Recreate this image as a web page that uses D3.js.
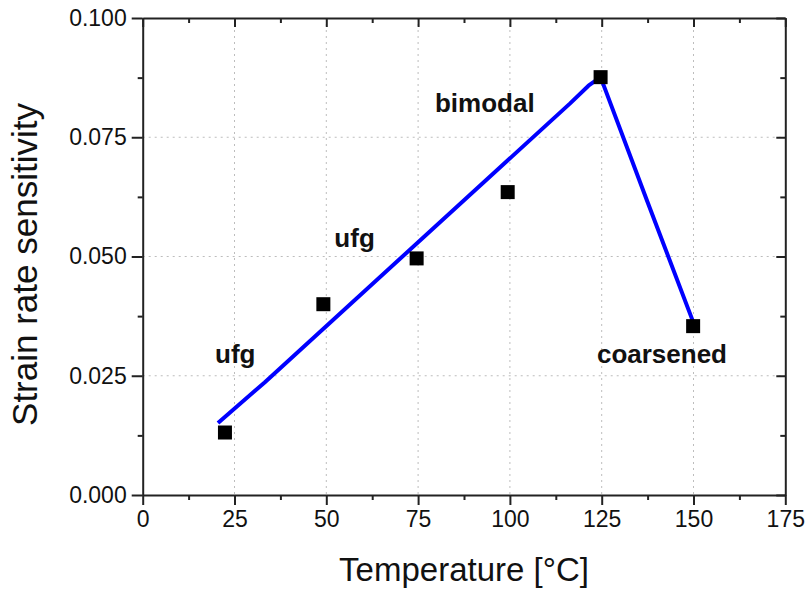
<!DOCTYPE html>
<html>
<head>
<meta charset="utf-8">
<script src="https://cdn.jsdelivr.net/npm/d3@7"></script>
<style>
  body { margin: 0; background: #fff; }
  svg text { font-family: "Liberation Sans", Arial, sans-serif; fill: #111; }
  .grid line { stroke: #bdbdbd; stroke-width: 1; stroke-dasharray: 2,4; }
  .axis path, .axis line { stroke: #222; stroke-width: 2; }
</style>
</head>
<body>
<div id="chart"></div>
<script>
// measured points
const temperature = [22.4, 49.2, 74.6, 99.4, 124.7, 149.9];
const sensitivity = [0.0131, 0.0400, 0.0496, 0.0635, 0.0876, 0.0354];

// blue guide line
const lineTemp = [20.5, 33.2, 116.4, 121.4, 124.7, 137.3, 149.9];
const lineSens = [0.0151, 0.0236, 0.0821, 0.0858, 0.0876, 0.0618, 0.0363];

// annotations
const labelText = ['ufg', 'ufg', 'bimodal', 'coarsened'];
const labelTemp = [19.7, 52.2, 79.6, 123.7];
const labelSens = [0.0277, 0.0520, 0.0803, 0.0277];

const xTicks = [0, 25, 50, 75, 100, 125, 150, 175];
const yTicks = [0, 0.025, 0.05, 0.075, 0.1];

const width = 807, height = 590;
const margin = {t: 18, r: 21.7, b: 95, l: 142.7};
const w = width - margin.l - margin.r;
const h = height - margin.t - margin.b;

const svg = d3.select('#chart').append('svg')
    .attr('width', width)
    .attr('height', height);

const plot = svg.append('g')
    .attr('transform', `translate(${margin.l},${margin.t})`);

const scaleX = d3.scaleLinear().domain([0, 175]).range([0, w]);
const scaleY = d3.scaleLinear().domain([0, 0.1]).range([h, 0]);

// minor tick positions
const xMinor = d3.range(12.5, 175, 25);
const yMinor = d3.range(0.0125, 0.1, 0.025);

// grid
const grid = plot.append('g').attr('class', 'grid');
grid.selectAll('.gx')
    .data(xTicks.filter(d => d > 0 && d < 175))
    .enter().append('line')
    .attr('x1', d => scaleX(d)).attr('x2', d => scaleX(d))
    .attr('y1', 0).attr('y2', h);
grid.selectAll('.gy')
    .data(yTicks.filter(d => d > 0 && d < 0.1))
    .enter().append('line')
    .attr('y1', d => scaleY(d)).attr('y2', d => scaleY(d))
    .attr('x1', 0).attr('x2', w);

// axes
const axisBottom = d3.axisBottom(scaleX).tickValues(xTicks).tickSize(10).tickPadding(6).tickSizeOuter(0);
const axisLeft = d3.axisLeft(scaleY).tickValues(yTicks).tickSize(11).tickPadding(5)
    .tickFormat(d3.format('.3f')).tickSizeOuter(0);

const axX = plot.append('g').attr('class', 'axis')
    .attr('transform', `translate(0,${h})`).call(axisBottom);
const axY = plot.append('g').attr('class', 'axis').call(axisLeft);
[axX, axY].forEach(a => a.selectAll('text').style('font-size', '23px'));

// minor ticks bottom/left
plot.append('g').attr('class', 'axis')
    .attr('transform', `translate(0,${h})`)
    .call(d3.axisBottom(scaleX).tickValues(xMinor).tickSize(5).tickFormat('').tickSizeOuter(0))
    .select('.domain').remove();
plot.append('g').attr('class', 'axis')
    .call(d3.axisLeft(scaleY).tickValues(yMinor).tickSize(5).tickFormat('').tickSizeOuter(0))
    .select('.domain').remove();

// mirrored top/right axes, ticks pointing in
plot.append('g').attr('class', 'axis')
    .call(d3.axisTop(scaleX).tickValues(xTicks).tickSize(-9).tickFormat('').tickSizeOuter(0));
plot.append('g').attr('class', 'axis')
    .call(d3.axisTop(scaleX).tickValues(xMinor).tickSize(-5).tickFormat('').tickSizeOuter(0))
    .select('.domain').remove();
plot.append('g').attr('class', 'axis')
    .attr('transform', `translate(${w},0)`)
    .call(d3.axisRight(scaleY).tickValues(yTicks).tickSize(-9).tickFormat('').tickSizeOuter(0));
plot.append('g').attr('class', 'axis')
    .attr('transform', `translate(${w},0)`)
    .call(d3.axisRight(scaleY).tickValues(yMinor).tickSize(-5).tickFormat('').tickSizeOuter(0))
    .select('.domain').remove();

// blue line
const lineData = lineTemp.map((t, i) => ({t: t, s: lineSens[i]}));
const lineGen = d3.line().x(d => scaleX(d.t)).y(d => scaleY(d.s));
plot.append('path')
    .datum(lineData)
    .attr('d', lineGen)
    .attr('fill', 'none')
    .attr('stroke', '#0000ff')
    .attr('stroke-width', 4)
    .attr('stroke-linejoin', 'round');

// square markers
const pts = temperature.map((t, i) => ({t: t, s: sensitivity[i]}));
const sq = 14;
plot.selectAll('.pt')
    .data(pts)
    .enter().append('rect')
    .attr('class', 'pt')
    .attr('x', d => scaleX(d.t) - sq / 2)
    .attr('y', d => scaleY(d.s) - sq / 2)
    .attr('width', sq)
    .attr('height', sq)
    .attr('fill', '#000');

// annotations
plot.selectAll('.lbl')
    .data(labelText)
    .enter().append('text')
    .attr('class', 'lbl')
    .attr('x', (d, i) => scaleX(labelTemp[i]))
    .attr('y', (d, i) => scaleY(labelSens[i]))
    .style('font-size', '26px')
    .style('font-weight', 'bold')
    .text(d => d);

// axis titles
svg.append('text')
    .attr('x', margin.l + w / 2)
    .attr('y', 581)
    .attr('text-anchor', 'middle')
    .style('font-size', '33px')
    .text('Temperature [°C]');

svg.append('text')
    .attr('transform', `translate(37,${margin.t + h / 2 + 8}) rotate(-90)`)
    .attr('text-anchor', 'middle')
    .style('font-size', '35px')
    .text('Strain rate sensitivity');
</script>
</body>
</html>
